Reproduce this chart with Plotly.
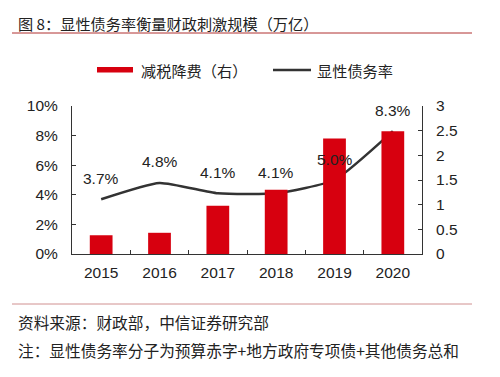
import plotly.graph_objects as go

years = ["2015", "2016", "2017", "2018", "2019", "2020"]
tax_cut = [0.38, 0.43, 0.98, 1.30, 2.34, 2.49]          # 万亿, right axis
debt_ratio = [3.7, 4.8, 4.1, 4.1, 5.0, 8.3]              # %, left axis
debt_labels = ["3.7%", "4.8%", "4.1%", "4.1%", "5.0%", "8.3%"]
left_ticks = [0, 2, 4, 6, 8, 10]
left_tick_text = ["0%", "2%", "4%", "6%", "8%", "10%"]
right_ticks = [0, 0.5, 1, 1.5, 2, 2.5, 3]
right_tick_text = ["0", "0.5", "1", "1.5", "2", "2.5", "3"]

RED = "#d7000f"
LINE = "#333333"
FONT = "Liberation Sans, Arial, sans-serif"
CJK = "Noto Sans CJK SC, sans-serif"

L, R, T, B = 72, 78, 106, 123
W, H = 500, 377
pw, ph = W - L - R, H - T - B

def px2x(px):
    return (px - L) / pw

def py2y(py):
    return (H - py - B) / ph

fig = go.Figure()
fig.add_trace(go.Bar(x=years, y=tax_cut, yaxis="y2", marker=dict(color=RED, line=dict(width=0)),
                     width=0.39, name="减税降费（右）", showlegend=False))
fig.add_trace(go.Scatter(x=years, y=debt_ratio, mode="lines", yaxis="y",
                         line=dict(color=LINE, width=2.5, shape="spline", smoothing=0.5),
                         name="显性债务率", showlegend=False))

annotations = []
for i, (v, t) in enumerate(zip(debt_ratio, debt_labels)):
    annotations.append(dict(x=i, y=v, xref="x", yref="y", text=t, showarrow=False,
                            yshift=21, font=dict(family=FONT, size=15.5, color="#222")))

def paper_text(px, py, text, size=15):
    return dict(x=px2x(px), y=py2y(py), xref="paper", yref="paper", text=text, showarrow=False,
                xanchor="left", yanchor="middle", font=dict(family=CJK, size=size, color="#222"))

annotations += [
    paper_text(16, 23, "图 8：显性债务率衡量财政刺激规模（万亿）", 15.2),
    paper_text(16, 322, "资料来源：财政部，中信证券研究部", 15.7),
    paper_text(16, 350, "注：显性债务率分子为预算赤字+地方政府专项债+其他债务总和", 15.7),
    paper_text(139, 70, "减税降费（右）", 15.2),
    paper_text(315, 70, "显性债务率", 15.2),
]

shapes = [
    dict(type="line", xref="paper", yref="paper", x0=px2x(12), x1=px2x(472), y0=py2y(33), y1=py2y(33),
         line=dict(color="#b03030", width=1)),
    dict(type="line", xref="paper", yref="paper", x0=px2x(12), x1=px2x(472), y0=py2y(304), y1=py2y(304),
         line=dict(color="#d09090", width=1)),
    dict(type="rect", xref="paper", yref="paper", x0=px2x(97), x1=px2x(133), y0=py2y(72.5), y1=py2y(67),
         fillcolor=RED, line=dict(width=0)),
    dict(type="line", xref="paper", yref="paper", x0=px2x(273), x1=px2x(311), y0=py2y(70), y1=py2y(70),
         line=dict(color=LINE, width=2.5)),
]

fig.update_layout(
    width=W, height=H, margin=dict(l=L, r=R, t=T, b=B, autoexpand=False),
    paper_bgcolor="white", plot_bgcolor="white",
    font=dict(family=FONT, size=15, color="#222"),
    xaxis=dict(type="category", range=[-0.5, 5.5], autorange=False, showgrid=False, showline=True,
               linecolor="#333", linewidth=1, ticks="inside", ticklen=4, tickcolor="#333",
               tickson="boundaries", tickangle=0,
               tickfont=dict(family=FONT, size=15.5, color="#222"), ticklabelstandoff=4),
    yaxis=dict(range=[0, 10], tickvals=left_ticks, ticktext=left_tick_text, showgrid=False,
               showline=True, linecolor="#333", linewidth=1, ticks="inside", ticklen=4, tickcolor="#333",
               zeroline=False, tickfont=dict(family=FONT, size=15.5, color="#222"), ticklabelstandoff=10),
    yaxis2=dict(range=[0, 3], tickvals=right_ticks, ticktext=right_tick_text, overlaying="y", side="right",
                showgrid=False, showline=True, linecolor="#333", linewidth=1, ticks="inside", ticklen=4,
                tickcolor="#333", zeroline=False, tickfont=dict(family=FONT, size=15.5, color="#222"),
                ticklabelstandoff=10),
    annotations=annotations,
    shapes=shapes,
    showlegend=False,
)

fig.write_html("out.html", config={"displayModeBar": False},
               post_script="document.body.style.margin='0';document.body.style.overflow='hidden';")
